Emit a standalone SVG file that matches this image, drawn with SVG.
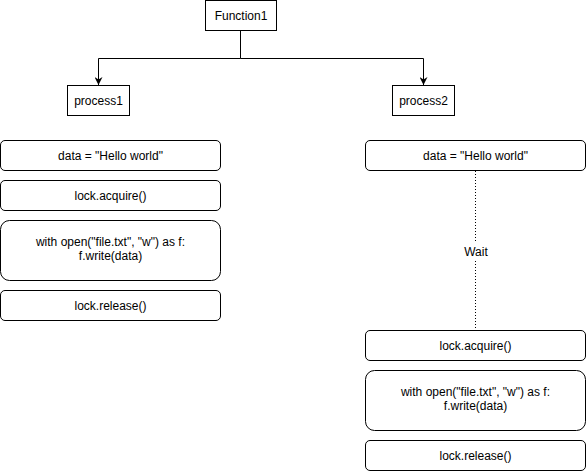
<svg xmlns="http://www.w3.org/2000/svg" width="587" height="472" viewBox="0 0 587 472">
<style>
.b{fill:#fff;stroke:#000;stroke-width:1}
.t{font-family:"Liberation Sans",Arial,sans-serif;font-size:12px;fill:#000;text-anchor:middle}
.c{fill:none;stroke:#000;stroke-width:1}
</style>
<defs>
<marker id="ar" viewBox="0 0 10 10" refX="10" refY="5" markerWidth="8" markerHeight="8" markerUnits="userSpaceOnUse" orient="auto">
<path d="M0,0 L10,5 L0,10 L3,5 Z" fill="#000"/>
</marker>
</defs>
<g id="connectors">
<path class="c" d="M240.5,30.5 V58.5 H98.5 V85" marker-end="url(#ar)"/>
<path class="c" d="M240.5,58.5 H423.5 V85" marker-end="url(#ar)"/>
<path class="c" d="M475.5,171 V330" stroke-dasharray="1,2"/>
</g>
<g id="function1"><rect class="b" x="205.5" y="0.5" width="71" height="30"/><text class="t" x="241" y="19.5">Function1</text></g>
<g id="process1"><rect class="b" x="67.5" y="85.5" width="62" height="30"/><text class="t" x="98.5" y="104.5">process1</text></g>
<g id="process2"><rect class="b" x="392.5" y="85.5" width="62" height="30"/><text class="t" x="423.5" y="104.5">process2</text></g>
<g id="p1-data"><rect class="b" x="0.5" y="140.5" width="220" height="30" rx="4.5"/><text class="t" x="110.5" y="159.5">data = "Hello world"</text></g>
<g id="p1-acquire"><rect class="b" x="0.5" y="180.5" width="220" height="30" rx="4.5"/><text class="t" x="110.5" y="199.5">lock.acquire()</text></g>
<g id="p1-write"><rect class="b" x="0.5" y="220.5" width="220" height="60" rx="9"/><text class="t" x="110.5" y="246">with open("file.txt", "w") as f:</text><text class="t" x="110.5" y="260">f.write(data)</text></g>
<g id="p1-release"><rect class="b" x="0.5" y="290.5" width="220" height="30" rx="4.5"/><text class="t" x="110.5" y="309.5">lock.release()</text></g>
<g id="p2-data"><rect class="b" x="365.5" y="140.5" width="220" height="30" rx="4.5"/><text class="t" x="475.5" y="159.5">data = "Hello world"</text></g>
<g id="wait"><rect x="462" y="243" width="28" height="17" fill="#fff"/><text class="t" x="476" y="256">Wait</text></g>
<g id="p2-acquire"><rect class="b" x="365.5" y="330.5" width="220" height="30" rx="4.5"/><text class="t" x="475.5" y="349.5">lock.acquire()</text></g>
<g id="p2-write"><rect class="b" x="365.5" y="370.5" width="220" height="60" rx="9"/><text class="t" x="475.5" y="396">with open("file.txt", "w") as f:</text><text class="t" x="475.5" y="410">f.write(data)</text></g>
<g id="p2-release"><rect class="b" x="365.5" y="440.5" width="220" height="30" rx="4.5"/><text class="t" x="475.5" y="459.5">lock.release()</text></g>
</svg>
